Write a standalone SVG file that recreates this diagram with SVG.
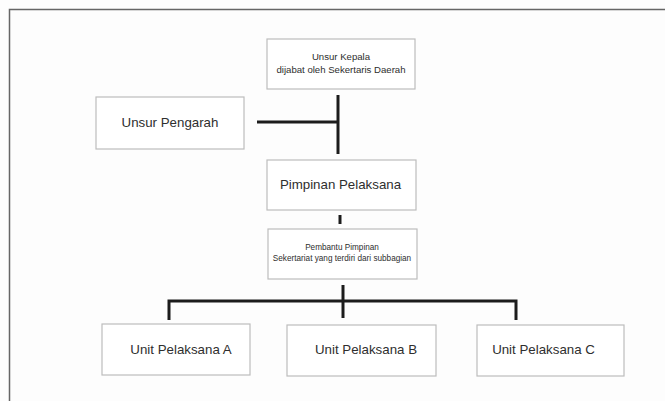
<svg xmlns="http://www.w3.org/2000/svg" width="665" height="401" viewBox="0 0 665 401">
<style>
.box{fill:#fff;stroke:#bdbdbd;stroke-width:1.2}
.t{font-family:"Liberation Sans",Arial,sans-serif;fill:#2e2e2e;text-anchor:middle}
.big{font-size:13.3px}
.sm{font-size:9.6px}
.xs{font-size:8.2px}
.c{fill:none;stroke:#1c1c1c;stroke-width:3}
</style>
<rect width="665" height="401" fill="#fdfdfd"/>
<path d="M9.5 401 V9.5 H665" fill="none" stroke="#666" stroke-width="1.5"/>
<g id="connectors">
<path class="c" d="M338 95 V154"/>
<path class="c" d="M257 122 H338"/>
<path class="c" d="M340 215 V224"/>
<path class="c" d="M169 320 V301 H516 V320"/>
<path class="c" d="M343 285 V318"/>
</g>
<g id="unsur-kepala">
<rect class="box" x="267" y="39" width="148" height="50"/>
<text class="t sm" x="341" y="60">Unsur Kepala</text>
<text class="t sm" x="341" y="73">dijabat oleh Sekertaris Daerah</text>
</g>
<g id="unsur-pengarah">
<rect class="box" x="96" y="97" width="148" height="52"/>
<text class="t big" x="170" y="127">Unsur Pengarah</text>
</g>
<g id="pimpinan-pelaksana">
<rect class="box" x="267" y="160" width="149" height="50"/>
<text class="t big" x="340.5" y="189">Pimpinan Pelaksana</text>
</g>
<g id="pembantu-pimpinan">
<rect class="box" x="268" y="229" width="149" height="50"/>
<text class="t xs" x="342" y="250">Pembantu Pimpinan</text>
<text class="t xs" x="342" y="261">Sekertariat yang terdiri dari subbagian</text>
</g>
<g id="unit-a">
<rect class="box" x="102" y="324" width="148" height="51"/>
<text class="t big" x="181" y="354">Unit Pelaksana A</text>
</g>
<g id="unit-b">
<rect class="box" x="287" y="325" width="149" height="51"/>
<text class="t big" x="366" y="354">Unit Pelaksana B</text>
</g>
<g id="unit-c">
<rect class="box" x="477" y="325" width="147" height="51"/>
<text class="t big" x="543.5" y="354">Unit Pelaksana C</text>
</g>
</svg>
